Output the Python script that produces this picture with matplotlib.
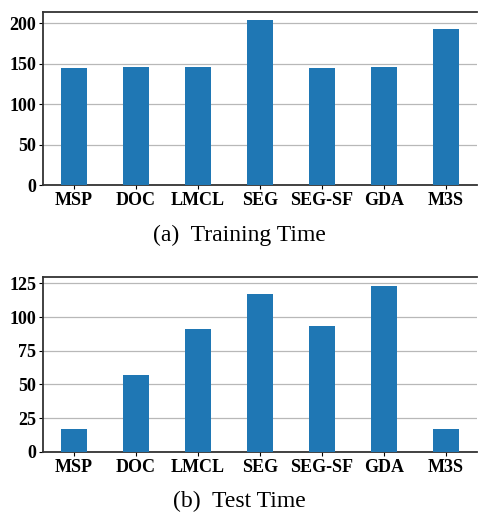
import matplotlib
matplotlib.use("Agg")
import matplotlib.pyplot as plt
import numpy as np

methods = ["MSP", "DOC", "LMCL", "SEG", "SEG-SF", "GDA", "M3S"]
train_time = [145, 146, 146, 204, 145, 146, 193]
test_time = [17, 57, 91, 117, 93, 123, 17]

plt.rcParams["font.family"] = ["Liberation Serif", "DejaVu Serif"]

fig = plt.figure(figsize=(4.78, 5.12), dpi=100)
ax1 = fig.add_axes([0.09, 0.638, 0.908, 0.3386])
ax2 = fig.add_axes([0.09, 0.1178, 0.908, 0.3406])

x = np.arange(len(methods))


def draw(ax, values, ylim, yticks, caption, cap_y):
    ax.bar(x, values, width=0.42, color="#1f77b4", zorder=3)
    ax.set_xlim(-0.5, 6.5)
    ax.set_ylim(0, ylim)
    ax.set_yticks(yticks)
    ax.set_xticks(x)
    ax.set_xticklabels(methods)
    ax.yaxis.grid(True, color="#b8b8b8", linewidth=0.9, zorder=0)
    for side in ["left", "bottom", "top"]:
        ax.spines[side].set_color("#333333")
        ax.spines[side].set_linewidth(1.3)
    ax.spines["right"].set_visible(False)
    ax.tick_params(labelsize=13, length=3, width=0.8, pad=2)
    for lab in ax.get_xticklabels() + ax.get_yticklabels():
        lab.set_fontweight("bold")
    fig.text(0.5, cap_y, caption, ha="center", va="center", fontsize=17)


draw(ax1, train_time, 214, [0, 50, 100, 150, 200], "(a)  Training Time", 1 - 235 / 512)
draw(ax2, test_time, 129.5, [0, 25, 50, 75, 100, 125], "(b)  Test Time", 1 - 501 / 512)

fig.savefig("out.png", dpi=100)
